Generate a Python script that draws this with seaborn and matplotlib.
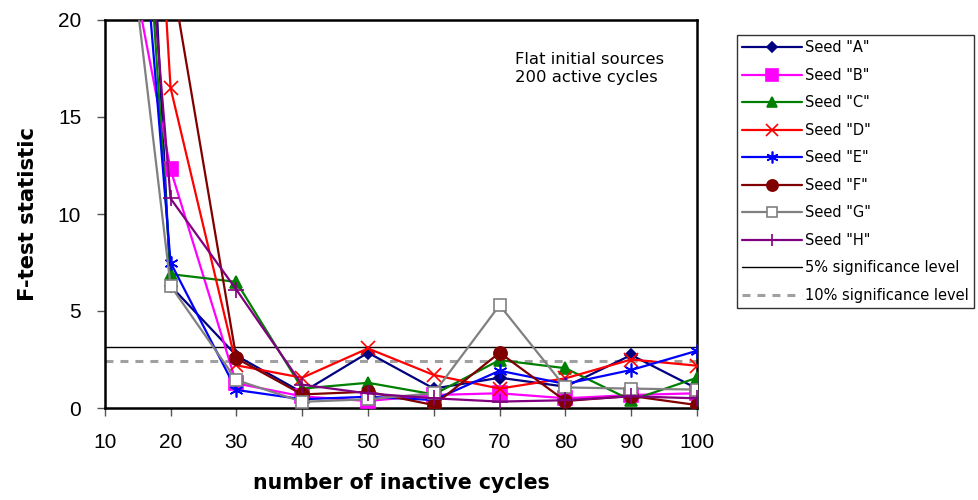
import matplotlib
matplotlib.use("Agg")
import matplotlib.pyplot as plt
import seaborn as sns
import pandas as pd
from matplotlib.lines import Line2D

cycles = [10, 20, 30, 40, 50, 60, 70, 80, 90, 100]
seed_A = [74, 6.3, 2.7, 0.8, 2.85, 1.0, 1.56, 1.1, 2.73, 1.0]
seed_B = [30, 12.3, 1.27, 0.6, 0.36, 0.67, 0.76, 0.5, 0.67, 0.76]
seed_C = [59, 6.9, 6.5, 1.0, 1.3, 0.7, 2.47, 2.05, 0.4, 1.56]
seed_D = [73, 16.5, 2.2, 1.56, 3.07, 1.7, 1.0, 1.53, 2.5, 2.18]
seed_E = [49, 7.5, 0.93, 0.45, 0.58, 0.41, 1.92, 1.24, 1.96, 2.95]
seed_F = [60, 22.6, 2.56, 0.7, 0.84, 0.15, 2.85, 0.36, 0.62, 0.15]
seed_G = [35, 6.3, 1.44, 0.32, 0.45, 0.76, 5.3, 1.06, 1.0, 0.95]
seed_H = [52, 10.8, 6.1, 1.2, 0.75, 0.5, 0.33, 0.4, 0.6, 0.5]
sig5 = 3.13
sig10 = 2.42

series = {
    'Seed "A"': seed_A, 'Seed "B"': seed_B, 'Seed "C"': seed_C, 'Seed "D"': seed_D,
    'Seed "E"': seed_E, 'Seed "F"': seed_F, 'Seed "G"': seed_G, 'Seed "H"': seed_H,
}
styles = {
    'Seed "A"': dict(color="#000080", marker="D", ms=6.5, mfc="#000080"),
    'Seed "B"': dict(color="#FF00FF", marker="s", ms=9.5, mfc="#FF00FF"),
    'Seed "C"': dict(color="#008000", marker="^", ms=8.5, mfc="#008000"),
    'Seed "D"': dict(color="#FF0000", marker="x", ms=10, mfc="#FF0000"),
    'Seed "E"': dict(color="#0000FF", marker=(6, 2, 0), ms=10, mfc="#0000FF"),
    'Seed "F"': dict(color="#800000", marker="o", ms=9.5, mfc="#800000"),
    'Seed "G"': dict(color="#808080", marker="s", ms=9, mfc="white"),
    'Seed "H"': dict(color="#800080", marker="+", ms=11, mfc="#800080"),
}

sns.set_theme(style="white")
plt.rcParams['font.family'] = ['Liberation Sans', 'DejaVu Sans']
plt.rcParams['text.color'] = 'black'
plt.rcParams['axes.labelcolor'] = 'black'
plt.rcParams['xtick.color'] = 'black'
plt.rcParams['ytick.color'] = 'black'

fig = plt.figure(figsize=(9.79, 5.0), dpi=100)
ax = fig.add_axes([0.107, 0.184, 0.605, 0.776])

handles = []
for name, vals in series.items():
    st = styles[name]
    df = pd.DataFrame({"x": cycles, "y": vals})
    sns.lineplot(data=df, x="x", y="y", ax=ax, color=st["color"], marker=st["marker"],
                 markersize=st["ms"], markerfacecolor=st["mfc"], markeredgecolor=st["color"],
                 markeredgewidth=1.2, linewidth=1.6, clip_on=True, zorder=3)
    lms = st["ms"] * 0.85
    handles.append(Line2D([], [], color=st["color"], marker=st["marker"], markersize=lms,
                          markerfacecolor=st["mfc"], markeredgecolor=st["color"],
                          markeredgewidth=1.2, linewidth=1.6, label=name))

dash = (0, (2.6, 2.3))
ax.axhline(sig5, color="black", linewidth=1.0, zorder=2)
ax.axhline(sig10, color="#A0A0A0", linewidth=2.2, linestyle=dash, zorder=2)
handles.append(Line2D([], [], color="black", linewidth=1.0, label="5% significance level"))
handles.append(Line2D([], [], color="#A0A0A0", linewidth=2.2, linestyle=dash,
                      label="10% significance level"))

ax.set_xlim(10, 100)
ax.set_ylim(0, 20)
ax.set_xticks(cycles)
ax.set_yticks([0, 5, 10, 15, 20])
ax.tick_params(axis="both", labelsize=15, direction="out", length=6, width=1,
               color="#555555", labelcolor="black", bottom=True, left=True, pad=11)
ax.tick_params(axis="x", pad=12)
for sp in ax.spines.values():
    sp.set_color("black")
    sp.set_linewidth(1.8)
ax.set_xlabel("number of inactive cycles", fontsize=14.8, fontweight="bold",
              family="DejaVu Sans", labelpad=15)
ax.set_ylabel("F-test statistic", fontsize=15.2, fontweight="bold",
              family="DejaVu Sans", labelpad=14)

ax.text(72.3, 18.37, "Flat initial sources\n200 active cycles", fontsize=11.8,
        family="DejaVu Sans", va="top", ha="left", linespacing=1.32)

leg = fig.legend(handles=handles, loc="upper left", bbox_to_anchor=(0.753, 0.93),
                 prop={"family": "DejaVu Sans", "size": 10.5}, frameon=True,
                 fancybox=False, edgecolor="black",
                 handlelength=4.1, handletextpad=0.2, labelspacing=0.86,
                 borderpad=0.35, borderaxespad=0)
leg.get_frame().set_linewidth(1.0)

fig.savefig("out.png", dpi=100)
